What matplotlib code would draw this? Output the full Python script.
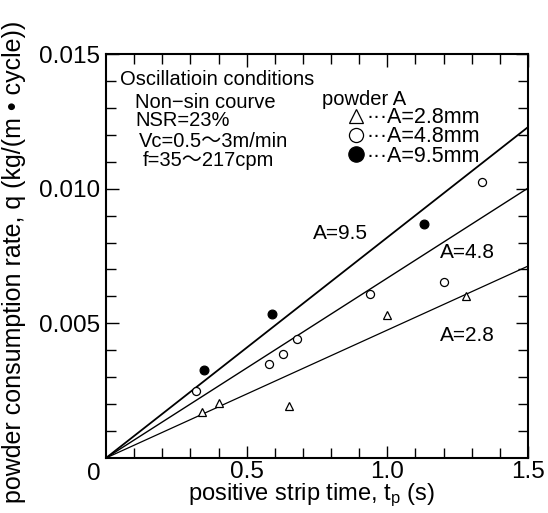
import matplotlib
matplotlib.use("Agg")
import matplotlib.pyplot as plt
import numpy as np

plt.rcParams['font.family'] = ['Liberation Sans', 'Noto Sans CJK JP', 'DejaVu Sans']
plt.rcParams['mathtext.fontset'] = 'custom'
plt.rcParams['mathtext.rm'] = 'Liberation Sans'
plt.rcParams['mathtext.it'] = 'Liberation Sans'

# data: A=2.8 mm (triangles), A=4.8 mm (open circles), A=9.5 mm (filled circles)
tp_28 = [0.34, 0.40, 0.65, 1.00, 1.28]
q_28 = [0.00172, 0.00203, 0.00194, 0.00532, 0.00600]
tp_48 = [0.32, 0.58, 0.63, 0.68, 0.94, 1.20, 1.335]
q_48 = [0.00248, 0.00349, 0.00386, 0.00442, 0.00610, 0.00652, 0.01023]
tp_95 = [0.35, 0.59, 1.13]
q_95 = [0.00327, 0.00534, 0.00869]
series_labels = ['···A=2.8mm', '···A=4.8mm', '···A=9.5mm']
# fitted line slopes (q = k * tp)
slope_labels = ['A=2.8', 'A=4.8', 'A=9.5']
slopes = [0.00475, 0.00668, 0.00819]

xticks = [0.5, 1.0, 1.5]
xticklabels = ['0.5', '1.0', '1.5']
yticks = [0.005, 0.010, 0.015]
yticklabels = ['0.005', '0.010', '0.015']

fig = plt.figure(figsize=(5.48, 5.13), dpi=100)
ax = fig.add_axes([0.1934, 0.1072, 0.77, 0.7875])
ax.set_xlim(0, 1.5)
ax.set_ylim(0, 0.015)

xl = np.array([0, 1.5])
for k, lw in zip(slopes, [0.9, 1.0, 1.3]):
    ax.plot(xl, k * xl, color='black', lw=lw, solid_capstyle='butt')

h28, = ax.plot(tp_28, q_28, linestyle='none', marker='^', ms=5.5, mfc='white', mec='black', mew=0.9)
h48, = ax.plot(tp_48, q_48, linestyle='none', marker='o', ms=5.8, mfc='white', mec='black', mew=0.9)
h95, = ax.plot(tp_95, q_95, linestyle='none', marker='o', ms=6.3, mfc='black', mec='black', mew=0.9)

ax.set_xticks(xticks)
ax.set_xticklabels(xticklabels, fontsize=17.5)
ax.set_xticks(np.arange(0.1, 1.5, 0.1), minor=True)
ax.set_yticks(yticks)
ax.set_yticklabels(yticklabels, fontsize=17.5)
ax.set_yticks(np.arange(0.001, 0.015, 0.001), minor=True)
ax.tick_params(which='both', direction='in', top=True, right=True, width=1.0)
ax.tick_params(which='major', length=9)
ax.tick_params(which='minor', length=7)
ax.tick_params(axis='x', which='major', pad=2)
ax.tick_params(axis='y', which='major', pad=4)
for s in ax.spines.values():
    s.set_linewidth(1.5)

ax.text(-0.045, -0.0002, '0', fontsize=17.5, ha='center', va='top')

ax.set_xlabel('positive strip time, $\\mathregular{t_p}$ (s)', fontsize=17)
ax.xaxis.set_label_coords(0.487, -0.058, transform=ax.transAxes)
ax.xaxis.label.set_va('top')
ax.set_ylabel('powder consumption rate, q (kg/(m • cycle))', fontsize=18)
ax.yaxis.set_label_coords(-0.19, 0.485)

tfs = 14.5
ax.text(0.05, 0.01405, 'Oscillatioin conditions', fontsize=tfs, va='center')
ax.text(0.103, 0.0132, 'Non−sin courve', fontsize=tfs, va='center')
ax.text(0.103, 0.01253, 'NSR=23%', fontsize=tfs, va='center')
ax.text(0.117, 0.01175, 'Vc=0.5～3m/min', fontsize=tfs, va='center')
ax.text(0.1315, 0.01104, 'f=35～217cpm', fontsize=tfs, va='center')

ax.text(0.767, 0.0133, 'powder A', fontsize=tfs, va='center')
leg = ax.legend(handles=[h28, h48, h95], labels=series_labels, loc='center left',
                bbox_to_anchor=(0.576, 0.795), frameon=False, fontsize=15.5,
                markerscale=1.75, handlelength=0.65, handletextpad=0.15,
                labelspacing=-0.08, borderpad=0, borderaxespad=0)

ax.text(0.736, 0.00833, slope_labels[2], fontsize=15, va='center')
ax.text(1.187, 0.00762, slope_labels[1], fontsize=15, va='center')
ax.text(1.187, 0.00454, slope_labels[0], fontsize=15, va='center')

fig.savefig('out.png', dpi=100)
